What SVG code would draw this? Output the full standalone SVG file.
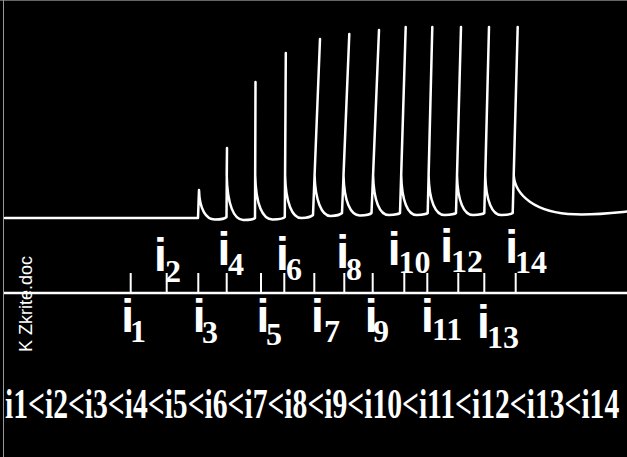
<svg xmlns="http://www.w3.org/2000/svg" width="627" height="457" viewBox="0 0 627 457">
<style>
.wave{fill:none;stroke:#fff;stroke-width:2.5;stroke-linejoin:round;stroke-linecap:round}
.axis{stroke:#fff;stroke-width:2.5;fill:none}
.tick{stroke:#fff;stroke-width:2;fill:none}
.lbl{fill:#fff}
.iv{font-family:"Liberation Sans",Arial,sans-serif;font-weight:bold;font-size:46px}
.sub{font-family:"Liberation Serif","Times New Roman",serif;font-weight:bold;font-size:32px}
.note{font-family:"Liberation Sans",Arial,sans-serif;font-size:18px;fill:#fff}
.eq{font-family:"Liberation Serif","Times New Roman",serif;font-weight:bold;font-size:43px;fill:#fff}
</style>
<rect x="0" y="0" width="627" height="457" fill="#000"/>
<line x1="0" y1="0.5" x2="627" y2="0.5" stroke="#666" stroke-width="1"/>
<line x1="3.5" y1="0" x2="3.5" y2="457" stroke="#999" stroke-width="1"/>
<g id="waveform">
<path class="wave" d="M5,218 L198,218 L199,190 C199.6,209.2 205.9,220 215.5,219.5 C221,219.5 225.5,218 226.5,217 L227,148 L226.7,175 C227.3,204.3 233.8,220.5 243.7,220 C250,220 254,219 255,218 L255.5,82 L255.2,175 C255.8,204.6 262.6,220 273,219.5 C280,219.3 284,218 284.8,217 L285.8,53 L285.1,175 C285.7,202.3 292.1,218.5 301.8,218 C308,217.8 312,216 313,215 L320,39 L314.6,175 C315.2,199.7 321.5,216.5 331,216 C337,215.8 341,214 342,213 L349.3,34 L343.5,175 C344.1,201.3 350.5,216 360.3,215.5 C366,215.3 370.5,214 371.5,213 L379,30 L373.1,175 C373.7,201 379.8,215.5 389.2,215 C395,214.8 399,214 400,213 L405.7,27 L401.2,175 C401.8,201 407.8,215.5 417.1,215 C423,214.8 426.7,214 427.7,213 L432.3,27 L428.6,175 C429.2,201 435.4,215.5 445,215 C451,214.8 455,214 456,213 L461,27 L457,175 C457.6,201 463.8,215.5 473.4,215 C479.3,214.8 483.3,214 484.3,213 L489,27 L485.3,175 C485.9,201 492.2,215.5 501.7,215 C507.7,214.8 511.7,214 512.7,213 L517.7,27 L513.7,175 C515,195 535,213 575,214.3 C595,215 612,213 627,211.5"/>
</g>
<g id="axis">
<line class="axis" x1="4" y1="293" x2="627" y2="293"/>
<path class="tick" d="M130.7,273V293M166.7,273V293M198.3,273V293M226.7,273V293M261,273V293M284.3,273V293M314.3,273V293M344.3,273V293M372.7,273V293M404.3,273V293M427.3,273V293M458.3,273V293M484.3,273V293M515.7,273V293"/>
</g>
<g id="label-i1"><text class="lbl"><tspan class="iv" x="121.3" y="331.7">i</tspan><tspan class="sub" x="130" y="341.7">1</tspan></text></g>
<g id="label-i2"><text class="lbl"><tspan class="iv" x="154" y="271">i</tspan><tspan class="sub" x="165" y="282">2</tspan></text></g>
<g id="label-i3"><text class="lbl"><tspan class="iv" x="192.7" y="331.7">i</tspan><tspan class="sub" x="202" y="343">3</tspan></text></g>
<g id="label-i4"><text class="lbl"><tspan class="iv" x="217.5" y="265">i</tspan><tspan class="sub" x="228" y="275">4</tspan></text></g>
<g id="label-i5"><text class="lbl"><tspan class="iv" x="256.5" y="331.7">i</tspan><tspan class="sub" x="266" y="345">5</tspan></text></g>
<g id="label-i6"><text class="lbl"><tspan class="iv" x="276" y="270">i</tspan><tspan class="sub" x="286" y="279.5">6</tspan></text></g>
<g id="label-i7"><text class="lbl"><tspan class="iv" x="311" y="331.7">i</tspan><tspan class="sub" x="324" y="341.7">7</tspan></text></g>
<g id="label-i8"><text class="lbl"><tspan class="iv" x="336.3" y="268.3">i</tspan><tspan class="sub" x="346" y="280">8</tspan></text></g>
<g id="label-i9"><text class="lbl"><tspan class="iv" x="364.7" y="331.7">i</tspan><tspan class="sub" x="373" y="341.7">9</tspan></text></g>
<g id="label-i10"><text class="lbl"><tspan class="iv" x="387.7" y="265">i</tspan><tspan class="sub" x="398.5" y="273.3">10</tspan></text></g>
<g id="label-i11"><text class="lbl"><tspan class="iv" x="421" y="331.7">i</tspan><tspan class="sub" x="432" y="340">11</tspan></text></g>
<g id="label-i12"><text class="lbl"><tspan class="iv" x="440.3" y="261.7">i</tspan><tspan class="sub" x="451" y="272.3">12</tspan></text></g>
<g id="label-i13"><text class="lbl"><tspan class="iv" x="477" y="338.3">i</tspan><tspan class="sub" x="487" y="348.3">13</tspan></text></g>
<g id="label-i14"><text class="lbl"><tspan class="iv" x="505.3" y="262.7">i</tspan><tspan class="sub" x="515" y="273.3">14</tspan></text></g>
<g id="note"><text class="note" transform="translate(31.5,352) rotate(-90)">K Zkrite.doc</text></g>
<g id="relation"><text class="eq" transform="translate(5,418) scale(0.689,1)" x="0" y="0">i1&lt;i2&lt;i3&lt;i4&lt;i5&lt;i6&lt;i7&lt;i8&lt;i9&lt;i10&lt;i11&lt;i12&lt;i13&lt;i14</text></g>
</svg>
